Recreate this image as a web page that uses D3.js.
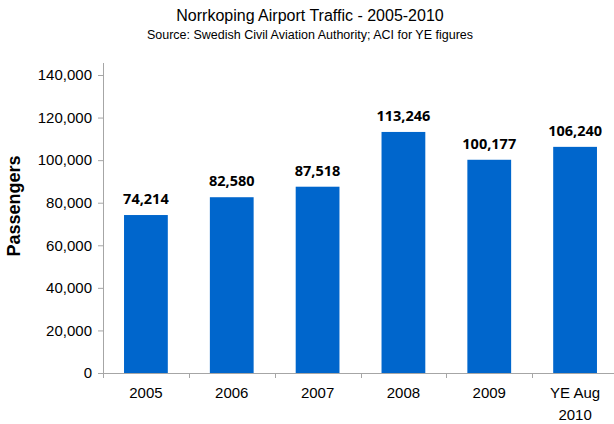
<!DOCTYPE html>
<html>
<head>
<meta charset="utf-8">
<script src="https://cdn.jsdelivr.net/npm/d3@7"></script>
<style>
  body { margin: 0; background: #fff; }
  svg { display: block; }
</style>
</head>
<body>
<div id="chart"><svg></svg></div>
<script>
// values
const categories = ['2005', '2006', '2007', '2008', '2009', 'YE Aug\n2010']
const passengers = [74214, 82580, 87518, 113246, 100177, 106240]
const yTicks = [0, 20000, 40000, 60000, 80000, 100000, 120000, 140000]

const width = 614
const height = 424
const margin = { top: 75, right: -4, bottom: 51, left: 103 }
const innerW = width - margin.left - margin.right
const innerH = height - margin.top - margin.bottom

const svg = d3.select('#chart').select('svg')
  .attr('width', width)
  .attr('height', height)

// titles
svg.append('text')
  .attr('x', 310)
  .attr('y', 21)
  .attr('text-anchor', 'middle')
  .attr('font-family', 'Liberation Sans, Arial, sans-serif')
  .attr('font-size', 16)
  .attr('fill', '#000')
  .text('Norrkoping Airport Traffic - 2005-2010')

svg.append('text')
  .attr('x', 310)
  .attr('y', 39)
  .attr('text-anchor', 'middle')
  .attr('font-family', 'Liberation Sans, Arial, sans-serif')
  .attr('font-size', 12.5)
  .attr('fill', '#000')
  .text('Source: Swedish Civil Aviation Authority; ACI for YE figures')

const g = svg.append('g')
  .attr('transform', 'translate(' + margin.left + ',' + margin.top + ')')

const x = d3.scaleBand()
  .domain(categories)
  .range([0, innerW])
  .paddingInner(0.49)
  .paddingOuter(0.245)

const y = d3.scaleLinear()
  .domain([0, 140000])
  .range([innerH, 0])

// y axis
const yAxis = g.append('g')
  .attr('class', 'y axis')
  .call(d3.axisLeft(y)
    .tickValues(yTicks)
    .tickSize(5)
    .tickSizeOuter(0)
    .tickPadding(6)
    .tickFormat(d3.format(',')))

yAxis.select('.domain')
  .attr('d', 'M0.5,-12V' + innerH)
yAxis.selectAll('line').attr('x2', -5)
yAxis.selectAll('path, line').attr('stroke', '#a6a6a6')
yAxis.selectAll('text')
  .attr('font-family', 'Liberation Sans, Arial, sans-serif')
  .attr('font-size', 15)
  .attr('fill', '#000')

// x axis
const xAxis = g.append('g')
  .attr('class', 'x axis')
  .attr('transform', 'translate(0,' + innerH + ')')

xAxis.append('line')
  .attr('x1', 0)
  .attr('x2', innerW)
  .attr('y1', 0.5)
  .attr('y2', 0.5)
  .attr('stroke', '#a6a6a6')

const step = x.step()
xAxis.selectAll('line.tick')
  .data(d3.range(categories.length + 1))
  .enter()
  .append('line')
  .attr('class', 'tick')
  .attr('x1', (d) => Math.round(d * step) + 0.5)
  .attr('x2', (d) => Math.round(d * step) + 0.5)
  .attr('y1', 0)
  .attr('y2', 5)
  .attr('stroke', '#a6a6a6')

xAxis.selectAll('text.cat')
  .data(categories)
  .enter()
  .append('text')
  .attr('class', 'cat')
  .attr('text-anchor', 'middle')
  .attr('font-family', 'Liberation Sans, Arial, sans-serif')
  .attr('font-size', 15)
  .attr('fill', '#000')
  .attr('transform', (d) => 'translate(' + (x(d) + x.bandwidth() / 2) + ',25)')
  .selectAll('tspan')
  .data((d) => d.split('\n'))
  .enter()
  .append('tspan')
  .attr('x', 0)
  .attr('dy', (d, i) => i !== 0 ? 22 : 0)
  .text((d) => d)

// bars
g.selectAll('rect.bar')
  .data(passengers)
  .enter()
  .append('rect')
  .attr('class', 'bar')
  .attr('x', (d, i) => x(categories[i]))
  .attr('y', (d) => y(d))
  .attr('width', x.bandwidth())
  .attr('height', (d) => innerH - y(d))
  .attr('fill', '#0066cc')

// value labels
g.selectAll('text.value')
  .data(passengers)
  .enter()
  .append('text')
  .attr('class', 'value')
  .attr('x', (d, i) => x(categories[i]) + x.bandwidth() / 2)
  .attr('y', (d) => y(d) - 11)
  .attr('text-anchor', 'middle')
  .attr('font-family', 'Open Sans, sans-serif')
  .attr('font-weight', 'bold')
  .attr('font-size', 14.5)
  .attr('fill', '#000')
  .text((d) => d3.format(',')(d))

// y label
svg.append('text')
  .attr('transform', 'translate(20,206) rotate(-90)')
  .attr('text-anchor', 'middle')
  .attr('font-family', 'Liberation Sans, Arial, sans-serif')
  .attr('font-weight', 'bold')
  .attr('font-size', 18)
  .attr('fill', '#000')
  .text('Passengers')
</script>
</body>
</html>
